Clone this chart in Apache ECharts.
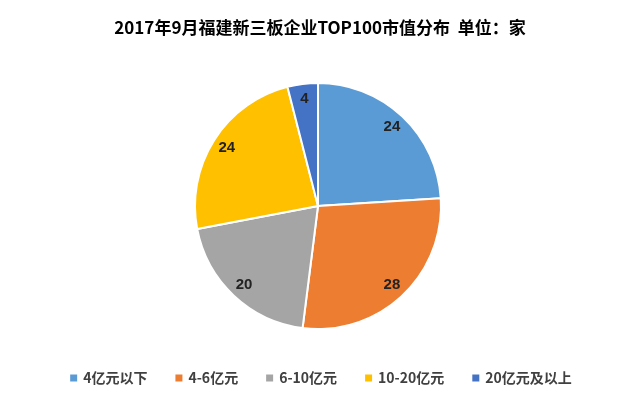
<!DOCTYPE html>
<html><head><meta charset="utf-8">
<script src="https://cdn.jsdelivr.net/npm/echarts@6/dist/echarts.min.js"></script>
<style>html,body{margin:0;background:#fff}#c{width:640px;height:400px}</style>
</head><body><div id="c"></div>
<script>
var categories = ['4亿元以下', '4-6亿元', '6-10亿元', '10-20亿元', '20亿元及以上'];
var values = [24, 28, 20, 24, 4];
var colors = ['#5B9BD5', '#ED7D31', '#A5A5A5', '#FFC000', '#4472C4'];

var chart = echarts.init(document.getElementById('c'));
var data = [], labelData = [];
for (var i = 0; i < categories.length; i++) {
    data.push({name: categories[i], value: values[i]});
    labelData.push({name: categories[i], value: values[i], itemStyle: {color: 'transparent'}});
}
chart.setOption({
    animation: false,
    color: colors,
    title: {
        text: '2017年9月福建新三板企业TOP100市值分布  单位：家',
        left: 'center', top: 14,
        textStyle: {fontSize: 17, fontWeight: 'bold', color: '#000', fontFamily: 'Noto Sans CJK SC'}
    },
    legend: {
        bottom: 10, left: 'center', itemWidth: 9, itemHeight: 9, itemGap: 26, icon: 'rect',
        textStyle: {fontSize: 14, fontWeight: 'bold', color: '#404040', fontFamily: 'Noto Sans CJK SC'},
        data: categories
    },
    series: [{
        type: 'pie',
        center: [318, 206],
        radius: 123,
        startAngle: 90,
        clockwise: true,
        itemStyle: {borderColor: '#fff', borderWidth: 2},
        label: {show: false},
        data: data
    }, {
        // transparent ring only to place labels further out
        type: 'pie',
        center: [318, 206],
        radius: [87, 123],
        startAngle: 90,
        clockwise: true,
        silent: true,
        legendHoverLink: false,
        itemStyle: {borderWidth: 0},
        label: {
            position: 'inside', formatter: '{c}',
            fontSize: 15, fontWeight: 'bold', color: '#222', fontFamily: 'Liberation Sans'
        },
        data: labelData
    }]
});
</script></body></html>
